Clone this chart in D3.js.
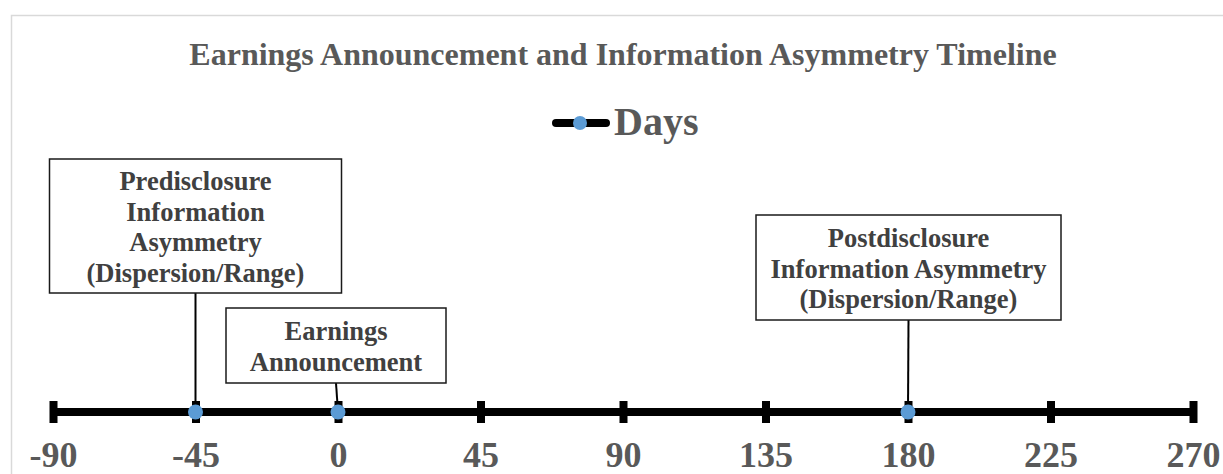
<!DOCTYPE html>
<html>
<head>
<meta charset="utf-8">
<script src="https://cdn.jsdelivr.net/npm/d3@7/dist/d3.min.js"></script>
<style>
  html, body { margin: 0; padding: 0; background: #fff; overflow: hidden; }
  svg { display: block; }
  text { font-family: "Liberation Serif", "Times New Roman", serif; font-weight: bold; }
</style>
</head>
<body>
<svg id="chart" width="1223" height="474"></svg>
<script>
// ---- Data ----
const chartTitle = "Earnings Announcement and Information Asymmetry Timeline";
const seriesName = "Days";
const tickValues = [-90, -45, 0, 45, 90, 135, 180, 225, 270];
const pointDays = [-45, 0, 180];
const pointLabels = [
  ["Predisclosure", "Information", "Asymmetry", "(Dispersion/Range)"],
  ["Earnings", "Announcement"],
  ["Postdisclosure", "Information Asymmetry", "(Dispersion/Range)"]
];

// ---- Layout ----
const svg = d3.select("#chart");
const axisY = 412;
const x = d3.scaleLinear().domain([-90, 270]).range([53, 1193]);

// chart frame
svg.append("rect").attr("x", 11.5).attr("y", 15.5).attr("width", 1260).attr("height", 500)
  .attr("fill", "#fff").attr("stroke", "#d9d9d9").attr("stroke-width", 1.5);

// title
svg.append("text").attr("x", 623).attr("y", 65).attr("text-anchor", "middle")
  .attr("fill", "#595959").attr("font-size", 32).text(chartTitle);

// legend
const lg = svg.append("g");
lg.append("line").attr("x1", 556).attr("x2", 606).attr("y1", 123).attr("y2", 123)
  .attr("stroke", "#000").attr("stroke-width", 8).attr("stroke-linecap", "round");
lg.append("circle").attr("cx", 580).attr("cy", 123).attr("r", 7).attr("fill", "#5b9bd5");
lg.append("text").attr("x", 614).attr("y", 135).attr("fill", "#595959")
  .attr("font-size", 40).text(seriesName);

// axis line
svg.append("line").attr("x1", x(-90)).attr("x2", x(270)).attr("y1", axisY).attr("y2", axisY)
  .attr("stroke", "#000").attr("stroke-width", 8);

// axis via d3.axisBottom for ticks and labels
const axis = d3.axisBottom(x).tickValues(tickValues).tickSize(0).tickPadding(0).tickFormat(d3.format("d"));
const ag = svg.append("g").attr("transform", `translate(0,${axisY})`).call(axis);
ag.select(".domain").remove();
ag.selectAll(".tick line").remove();
ag.selectAll(".tick").append("rect")
  .attr("x", -4).attr("y", -11).attr("width", 8).attr("height", 22).attr("fill", "#000");
ag.selectAll(".tick text")
  .attr("y", 55).attr("dy", null)
  .attr("fill", "#595959").attr("font-size", 36)
  .attr("font-family", "Liberation Serif, Times New Roman, serif")
  .attr("font-weight", "bold")
  .text(d => d3.format("d")(d).replace("−", "-"));

// label boxes (layout only)
const boxLayout = [
  { dx: 0,  top: 159, bottom: 293, w: 292, firstBase: 190 },
  { dx: -2, top: 308, bottom: 383, w: 220, firstBase: 340 },
  { dx: 0.5, top: 215, bottom: 320, w: 305, firstBase: 247 }
];
const lineGap = 30.5;

pointDays.forEach((d, i) => {
  const b = boxLayout[i];
  const cx = x(d) + b.dx;
  const g = svg.append("g");
  g.append("line").attr("x1", cx).attr("y1", b.bottom).attr("x2", x(d)).attr("y2", axisY)
    .attr("stroke", "#000").attr("stroke-width", 2);
  g.append("rect").attr("x", cx - b.w / 2).attr("y", b.top).attr("width", b.w)
    .attr("height", b.bottom - b.top).attr("fill", "#fff").attr("stroke", "#1a1a1a").attr("stroke-width", 1.5);
  pointLabels[i].forEach((t, j) => {
    g.append("text").attr("x", cx).attr("y", b.firstBase + j * lineGap)
      .attr("text-anchor", "middle").attr("fill", "#404040").attr("font-size", 26.5).text(t);
  });
});

// points
svg.append("g").selectAll("circle").data(pointDays).join("circle")
  .attr("cx", d => x(d)).attr("cy", axisY).attr("r", 7.5).attr("fill", "#5b9bd5");
</script>
</body>
</html>
